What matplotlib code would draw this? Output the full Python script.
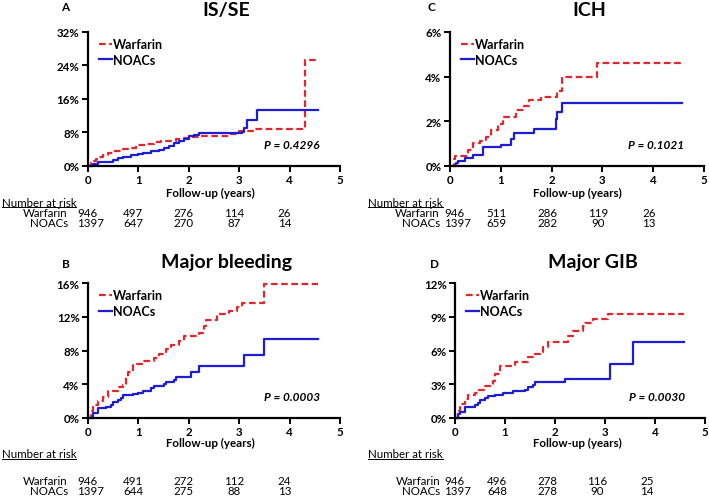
import matplotlib
matplotlib.use('Agg')
import matplotlib.pyplot as plt
from matplotlib.lines import Line2D
from matplotlib.transforms import blended_transform_factory
from matplotlib.ticker import FuncFormatter

plt.rcParams['font.family'] = ['Lato', 'DejaVu Sans']

RED = '#e3262c'
BLUE = '#1d1dd6'

# ---- data (years, cumulative incidence %) ----
ise_war_t = [0, 0.05, 0.1, 0.15, 0.2, 0.3, 0.4, 0.5, 0.6, 0.7, 0.8, 0.95, 1.0, 1.15, 1.3, 1.45,
             1.6, 1.75, 1.9, 2.0, 2.2, 2.8, 3.0, 3.3, 4.3, 4.57]
ise_war_v = [0, 0.6, 1.1, 1.6, 2.0, 2.5, 3.0, 3.4, 3.6, 3.9, 4.2, 4.4, 5.0, 5.2, 5.6, 5.8,
             6.0, 6.3, 6.6, 6.8, 7.0, 7.6, 8.2, 8.9, 25.4, 25.4]
ise_noac_t = [0, 0.1, 0.2, 0.35, 0.5, 0.6, 0.7, 0.85, 1.0, 1.1, 1.25, 1.4, 1.5, 1.6, 1.7,
              1.8, 1.9, 2.0, 2.1, 2.2, 3.05, 3.1, 3.15, 3.35, 4.57]
ise_noac_v = [0, 0.5, 0.8, 1.0, 1.4, 1.8, 2.2, 2.5, 2.7, 3.0, 3.4, 3.8, 4.3, 4.8, 5.4,
              6.0, 6.4, 7.0, 7.4, 7.8, 8.0, 9.0, 11.0, 13.3, 13.3]

ich_war_t = [0, 0.07, 0.1, 0.35, 0.45, 0.6, 0.7, 0.8, 0.95, 1.05, 1.3, 1.45, 1.55, 1.8, 2.1,
             2.2, 2.9, 4.57]
ich_war_v = [0, 0.3, 0.45, 0.7, 1.0, 1.1, 1.3, 1.6, 1.85, 2.2, 2.5, 2.7, 2.95, 3.1, 3.35,
             4.0, 4.6, 4.6]
ich_noac_t = [0.1, 0.12, 0.15, 0.3, 0.45, 0.65, 1.0, 1.2, 1.25, 1.65, 2.08, 2.1, 2.2, 4.57]
ich_noac_v = [0, 0.1, 0.2, 0.35, 0.5, 0.85, 0.95, 1.2, 1.45, 1.65, 2.1, 2.4, 2.8, 2.8]

mb_war_t = [0, 0.05, 0.1, 0.2, 0.3, 0.4, 0.6, 0.7, 0.75, 0.8, 0.9, 1.1, 1.3, 1.4, 1.55, 1.65,
            1.8, 1.9, 2.2, 2.3, 2.35, 2.55, 2.8, 2.95, 3.05, 3.5, 4.57]
mb_war_v = [0, 0.8, 1.5, 2.0, 2.5, 3.2, 3.6, 3.9, 4.8, 5.5, 6.4, 6.8, 7.1, 7.6, 8.2, 8.7,
            9.1, 9.7, 10.1, 10.9, 11.6, 12.4, 12.7, 13.2, 13.7, 15.9, 15.9]
mb_noac_t = [0, 0.1, 0.2, 0.35, 0.45, 0.5, 0.6, 0.65, 0.7, 0.9, 1.0, 1.1, 1.25, 1.3, 1.5,
             1.55, 1.7, 1.75, 2.05, 2.2, 3.1, 3.5, 4.57]
mb_noac_v = [0, 0.6, 1.1, 1.3, 1.5, 1.9, 2.1, 2.4, 2.7, 2.8, 3.0, 3.2, 3.5, 3.8, 4.0,
             4.2, 4.5, 4.8, 5.5, 6.2, 7.5, 9.4, 9.4]

gib_war_t = [0, 0.05, 0.1, 0.2, 0.25, 0.4, 0.45, 0.6, 0.75, 0.8, 0.9, 1.2, 1.45, 1.55, 1.7,
             1.75, 1.85, 2.25, 2.35, 2.55, 2.6, 2.75, 3.05, 4.57]
gib_war_v = [0, 0.6, 1.2, 1.7, 2.0, 2.2, 2.5, 2.8, 3.3, 3.9, 4.6, 5.0, 5.4, 5.7, 5.9,
             6.3, 6.8, 7.3, 7.7, 8.2, 8.5, 8.8, 9.3, 9.3]
gib_noac_t = [0, 0.05, 0.1, 0.2, 0.4, 0.45, 0.5, 0.6, 0.65, 0.8, 0.95, 1.15, 1.4, 1.45,
              1.55, 1.6, 2.2, 3.1, 3.55, 4.57]
gib_noac_v = [0, 0.3, 0.5, 1.0, 1.1, 1.3, 1.6, 1.8, 1.9, 2.0, 2.2, 2.4, 2.5, 2.7,
              2.9, 3.2, 3.5, 4.8, 6.8, 6.8]

years = [0, 1, 2, 3, 4]
ise_risk_war = [946, 497, 276, 114, 26]
ise_risk_noac = [1397, 647, 270, 87, 14]
ich_risk_war = [946, 511, 286, 119, 26]
ich_risk_noac = [1397, 659, 282, 90, 13]
mb_risk_war = [946, 491, 272, 112, 24]
mb_risk_noac = [1397, 644, 275, 88, 13]
gib_risk_war = [946, 496, 278, 116, 25]
gib_risk_noac = [1397, 648, 278, 90, 14]

W, H = 709, 502
fig = plt.figure(figsize=(W / 100, H / 100), dpi=100)
underlined = []
TXT = 8.3


def px_axes(left, right, top, bottom):
    return fig.add_axes([left / W, 1 - bottom / H, (right - left) / W, (bottom - top) / H])


def panel(ax, letter, title, ymax, yticks, war, noac, pval, risk_war, risk_noac,
          letter_xy, rows_y, tab):
    # tab: (x of "Number at risk", right edge of group names, left edge of year-0 column,
    #       shift of the other columns, centre of "Follow-up (years)")
    ax.plot(war[0], war[1], drawstyle='steps-post', color=RED, ls=(0, (3, 1.6)), lw=1.6,
            label='Warfarin', clip_on=False)
    ax.plot(noac[0], noac[1], drawstyle='steps-post', color=BLUE, lw=1.6,
            label='NOACs', clip_on=False)
    ax.set_xlim(0, 5)
    ax.set_ylim(0, ymax)
    ax.set_xticks(range(6))
    ax.set_yticks(yticks)
    ax.yaxis.set_major_formatter(FuncFormatter(lambda v, p: f'{v:.0f}%'))
    for s in ['top', 'right']:
        ax.spines[s].set_visible(False)
    for s in ['left', 'bottom']:
        ax.spines[s].set_linewidth(1.6)
    ax.tick_params(direction='out', length=4, width=1.4, labelsize=8.3, pad=2)
    for lab in ax.get_xticklabels() + ax.get_yticklabels():
        lab.set_fontweight('bold')

    ax.legend(loc='upper left', bbox_to_anchor=(0.0, 1.04), frameon=False,
              handlelength=1.0, handletextpad=0.1, labelspacing=0.3,
              prop={'size': 9, 'weight': 'bold'})

    ax.text(2.75, 1.165, title, transform=blended_transform_factory(ax.transData, ax.transAxes),
            ha='center', va='center', fontsize=14, fontweight='bold')
    ax.text(letter_xy[0], letter_xy[1], letter, transform=ax.transAxes,
            ha='left', va='center', fontsize=8.5, fontweight='bold')
    ax.text(0.92, 0.16, f'P = {pval}', transform=ax.transAxes, ha='right', va='center',
            fontsize=8.5, fontweight='bold', style='italic')

    tr = blended_transform_factory(ax.transData, ax.transAxes)
    ax.text(tab[4], rows_y[0], 'Follow-up (years)', transform=tr, ha='center', va='center',
            fontsize=TXT, fontweight='bold')
    t = ax.text(tab[0], rows_y[1], 'Number at risk', transform=tr,
                ha='left', va='center', fontsize=TXT)
    underlined.append(t)
    for name, vals, y in [('Warfarin', risk_war, rows_y[2]), ('NOACs', risk_noac, rows_y[3])]:
        ax.text(tab[1], y, name, transform=tr, ha='right', va='center', fontsize=TXT)
        for yr, n in zip(years, vals):
            if yr == 0:
                ax.text(tab[2], y, str(n), transform=tr, ha='left', va='center', fontsize=TXT)
            else:
                ax.text(yr + tab[3], y, str(n), transform=tr, ha='center', va='center',
                        fontsize=TXT)


axA = px_axes(88, 340, 33, 166.7)
axC = px_axes(450, 704, 33, 166.7)
axB = px_axes(88, 340, 284.3, 418.7)
axD = px_axes(455, 705, 284.3, 418.7)

top_rows = (-0.2, -0.275, -0.35, -0.425)
bot_rows = (-0.185, -0.27, -0.47, -0.545)

panel(axA, 'A', 'IS/SE', 32, [0, 8, 16, 24, 32], (ise_war_t, ise_war_v),
      (ise_noac_t, ise_noac_v), '0.4296', ise_risk_war, ise_risk_noac,
      (-0.105, 1.19), top_rows, (-1.71, -0.4, -0.22, -0.1, 2.42))
panel(axC, 'C', 'ICH', 6, [0, 2, 4, 6], (ich_war_t, ich_war_v),
      (ich_noac_t, ich_noac_v), '0.1021', ich_risk_war, ich_risk_noac,
      (-0.09, 1.19), top_rows, (-1.61, -0.2, -0.12, -0.08, 2.5))
panel(axB, 'B', 'Major bleeding', 16, [0, 4, 8, 12, 16], (mb_war_t, mb_war_v),
      (mb_noac_t, mb_noac_v), '0.0003', mb_risk_war, mb_risk_noac,
      (-0.105, 1.145), bot_rows, (-1.71, -0.4, -0.22, -0.1, 2.42))
panel(axD, 'D', 'Major GIB', 12, [0, 3, 6, 9, 12], (gib_war_t, gib_war_v),
      (gib_noac_t, gib_noac_v), '0.0030', gib_risk_war, gib_risk_noac,
      (-0.1, 1.145), bot_rows, (-1.74, -0.3, -0.22, -0.16, 2.44))

# underline "Number at risk"
fig.canvas.draw()
renderer = fig.canvas.get_renderer()
for t in underlined:
    bb = t.get_window_extent(renderer)
    y = (bb.y0 + 0.5) / H
    fig.add_artist(Line2D([bb.x0 / W, bb.x1 / W], [y, y], color='black', lw=0.7))

fig.savefig('out.png', dpi=100)
